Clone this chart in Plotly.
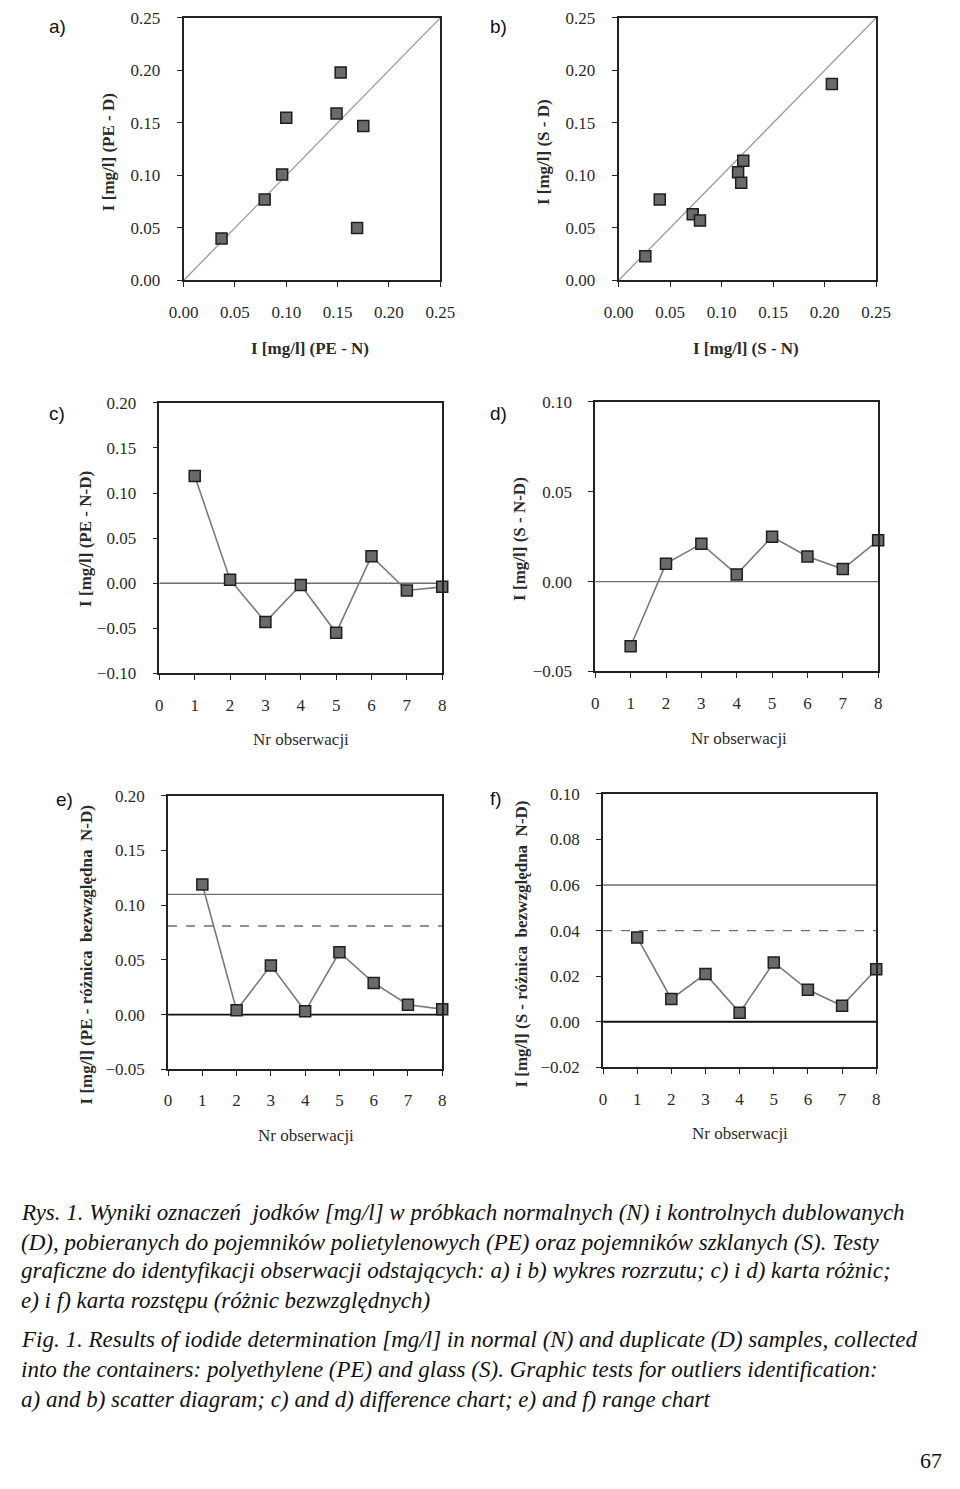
import plotly.graph_objects as go

W, H = 960, 1489

# ---------------- data ----------------
obs = [1, 2, 3, 4, 5, 6, 7, 8]

# a) scatter PE: N vs D
pe_n = [0.037, 0.079, 0.096, 0.100, 0.149, 0.153, 0.175, 0.169]
pe_d = [0.040, 0.077, 0.101, 0.155, 0.159, 0.198, 0.147, 0.050]
# b) scatter S: N vs D
s_n = [0.026, 0.040, 0.072, 0.079, 0.116, 0.121, 0.119, 0.207]
s_d = [0.023, 0.077, 0.063, 0.057, 0.103, 0.114, 0.093, 0.187]
diag = [0.0, 0.25]

# c) difference chart PE
pe_diff = [0.119, 0.004, -0.043, -0.002, -0.055, 0.030, -0.008, -0.004]
# d) difference chart S
s_diff = [-0.036, 0.010, 0.021, 0.004, 0.025, 0.014, 0.007, 0.023]
# e) range chart PE
pe_abs = [0.119, 0.004, 0.045, 0.003, 0.057, 0.029, 0.009, 0.005]
pe_limits = {"solid": 0.110, "dash": 0.081}
# f) range chart S
s_abs = [0.037, 0.010, 0.021, 0.004, 0.026, 0.014, 0.007, 0.023]
s_limits = {"solid": 0.060, "dash": 0.040}

x_span = [0, 8]

# plot areas in pixels: (left, right, top, bottom)
boxes = {
    1: (174, 439, 9, 275),
    2: (623, 889, 9, 275),
    3: (149, 441, 399, 673),
    4: (599, 891, 398, 671),
    5: (158, 441, 797, 1074),
    6: (607, 889, 795, 1072),
}

TICKFONT = dict(family="Liberation Serif", size=17, color="#2a2a2a")
MK = dict(symbol="square", size=11, color="#6a6a6a", line=dict(color="#1e1e1e", width=1.5))
LINEC = "#7a7a7a"

fig = go.Figure()

def ax_names(i):
    return ("x" if i == 1 else f"x{i}", "y" if i == 1 else f"y{i}")

def setup_axes(i, xr, yr, xdtick, ydtick, xfmt, yfmt):
    l, r, t, b = boxes[i]
    xa = dict(domain=[l / W, r / W], range=xr, dtick=xdtick, tick0=0, tickformat=xfmt,
              showline=True, mirror=True, linecolor="#222222", linewidth=1.6,
              ticks="outside", ticklen=5, tickwidth=1.3, tickcolor="#222222",
              showgrid=False, zeroline=False, tickfont=TICKFONT,
              anchor=ax_names(i)[1], fixedrange=True, ticklabelstandoff=10)
    ya = dict(domain=[1 - b / H, 1 - t / H], range=yr, dtick=ydtick, tick0=0, tickformat=yfmt,
              showline=True, mirror=True, linecolor="#222222", linewidth=1.6,
              ticks="outside", ticklen=5, tickwidth=1.3, tickcolor="#222222",
              showgrid=False, zeroline=False, tickfont=TICKFONT,
              anchor=ax_names(i)[0], fixedrange=True, ticklabelstandoff=13)
    key = "" if i == 1 else str(i)
    fig.update_layout(**{f"xaxis{key}": xa, f"yaxis{key}": ya})

# ---------------- panels a, b ----------------
for i, (xs, ys) in ((1, (pe_n, pe_d)), (2, (s_n, s_d))):
    xn, yn = ax_names(i)
    fig.add_trace(go.Scatter(x=diag, y=diag, mode="lines", line=dict(color="#9a9a9a", width=1.3),
                             xaxis=xn, yaxis=yn, showlegend=False, hoverinfo="skip"))
    fig.add_trace(go.Scatter(x=xs, y=ys, mode="markers", marker=MK, xaxis=xn, yaxis=yn,
                             showlegend=False, cliponaxis=False))
    setup_axes(i, [0, 0.25], [0, 0.25], 0.05, 0.05, ".2f", ".2f")

# ---------------- panels c, d ----------------
for i, ys, yr, dt in ((3, pe_diff, [-0.10, 0.20], 0.05), (4, s_diff, [-0.05, 0.10], 0.05)):
    xn, yn = ax_names(i)
    fig.add_trace(go.Scatter(x=x_span, y=[0, 0], mode="lines", line=dict(color="#6e6e6e", width=1.3),
                             xaxis=xn, yaxis=yn, showlegend=False, hoverinfo="skip"))
    fig.add_trace(go.Scatter(x=obs, y=ys, mode="lines+markers", marker=MK,
                             line=dict(color=LINEC, width=1.6), xaxis=xn, yaxis=yn,
                             showlegend=False, cliponaxis=False))
    setup_axes(i, x_span, yr, 1, dt, "d", ".2f")

# ---------------- panels e, f ----------------
for i, ys, lim, yr, dt in ((5, pe_abs, pe_limits, [-0.05, 0.20], 0.05),
                           (6, s_abs, s_limits, [-0.02, 0.10], 0.02)):
    xn, yn = ax_names(i)
    fig.add_trace(go.Scatter(x=x_span, y=[lim["solid"]] * 2, mode="lines",
                             line=dict(color="#6e6e6e", width=1.3),
                             xaxis=xn, yaxis=yn, showlegend=False, hoverinfo="skip"))
    fig.add_trace(go.Scatter(x=x_span, y=[lim["dash"]] * 2, mode="lines",
                             line=dict(color="#6e6e6e", width=1.3, dash="dash"),
                             xaxis=xn, yaxis=yn, showlegend=False, hoverinfo="skip"))
    fig.add_trace(go.Scatter(x=x_span, y=[0, 0], mode="lines", line=dict(color="#111111", width=1.8),
                             xaxis=xn, yaxis=yn, showlegend=False, hoverinfo="skip"))
    fig.add_trace(go.Scatter(x=obs, y=ys, mode="lines+markers", marker=MK,
                             line=dict(color=LINEC, width=1.6), xaxis=xn, yaxis=yn,
                             showlegend=False, cliponaxis=False))
    setup_axes(i, x_span, yr, 1, dt, "d", ".2f")

# ---------------- annotations ----------------
ann = []

def txt(x, y, s, size=17, family="Liberation Serif", angle=0, xanchor="center", color="#2a2a2a", bold=False):
    if bold:
        s = f"<b>{s}</b>"
    ann.append(dict(x=x / W, y=1 - y / H, xref="paper", yref="paper", text=s, showarrow=False,
                    textangle=angle, xanchor=xanchor, yanchor="middle",
                    font=dict(family=family, size=size, color=color)))

# panel letters
for lab, x, y in (("a)", 33, 18), ("b)", 488, 18), ("c)", 33, 410), ("d)", 488, 410),
                  ("e)", 40, 801), ("f)", 488, 800)):
    txt(x, y, lab, size=19, family="Liberation Sans", xanchor="left", color="#111111")

# axis titles
txt(305, 344, "I [mg/l] (PE - N)", bold=True)
txt(96, 145, "I [mg/l] (PE - D)", angle=-90, bold=True)
txt(755, 344, "I [mg/l] (S - N)", bold=True)
txt(545, 145, "I [mg/l] (S - D)", angle=-90, bold=True)
txt(295, 740, "Nr obserwacji")
txt(72, 537, "I [mg/l] (PE - N-D)", angle=-90, bold=True)
txt(747, 739, "Nr obserwacji")
txt(520, 537, "I [mg/l] (S - N-D)", angle=-90, bold=True)
txt(300, 1141, "Nr obserwacji")
txt(74, 958, "I [mg/l] (PE - różnica  bezwzględna  N-D)", angle=-90, bold=True)
txt(748, 1139, "Nr obserwacji")
txt(523, 947, "I [mg/l] (S - różnica  bezwzględna  N-D)", angle=-90, bold=True)

caption = [
    (1219, "Rys. 1. Wyniki oznaczeń  jodków [mg/l] w próbkach normalnych (N) i kontrolnych dublowanych"),
    (1249, "(D), pobieranych do pojemników polietylenowych (PE) oraz pojemników szklanych (S). Testy"),
    (1278, "graficzne do identyfikacji obserwacji odstających: a) i b) wykres rozrzutu; c) i d) karta różnic;"),
    (1308, "e) i f) karta rozstępu (różnic bezwzględnych)"),
    (1348, "Fig. 1. Results of iodide determination [mg/l] in normal (N) and duplicate (D) samples, collected"),
    (1378, "into the containers: polyethylene (PE) and glass (S). Graphic tests for outliers identification:"),
    (1408, "a) and b) scatter diagram; c) and d) difference chart; e) and f) range chart"),
]
for y, s in caption:
    txt(4, y, f"<i>{s}</i>", size=23, xanchor="left", color="#111111")

txt(946, 1470, "67", size=22, color="#111111")

fig.update_layout(annotations=ann, width=W, height=H, margin=dict(l=0, r=0, t=0, b=0),
                  paper_bgcolor="white", plot_bgcolor="white", showlegend=False)

fig.write_html("out.html", config={"displayModeBar": False},
               post_script="document.body.style.margin='0';document.body.style.overflow='hidden';")
